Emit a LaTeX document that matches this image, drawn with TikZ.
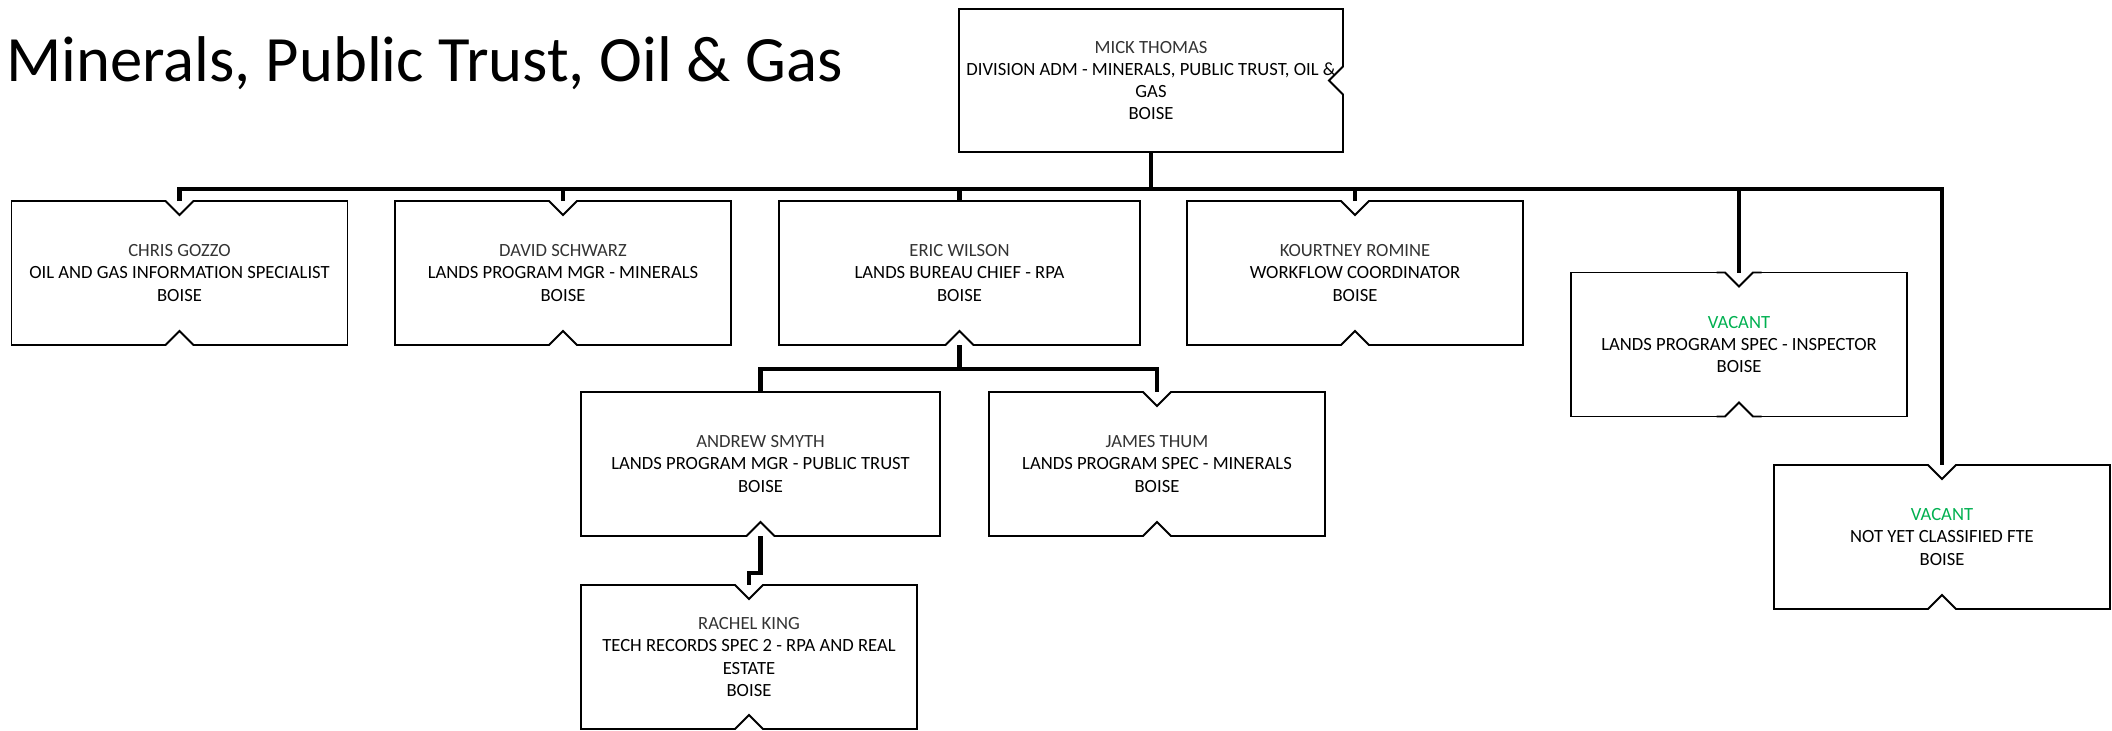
\documentclass[tikz,border=0pt]{standalone}
\usepackage{fontspec}
\setmainfont{Carlito}
\definecolor{vacantgreen}{HTML}{00B050}

% small notches where the lines meet the boxes
\newcommand{\notchtop}[1]{%
  \draw[white, line width=3pt] ([xshift=-0.28cm]#1.north) -- ([xshift=0.28cm]#1.north);
  \draw[edge] ([xshift=-0.45cm]#1.north) -- ([xshift=-0.28cm]#1.north) -- ([yshift=-0.28cm]#1.north)
    -- ([xshift=0.28cm]#1.north) -- ([xshift=0.45cm]#1.north);}
\newcommand{\notchbottom}[1]{%
  \draw[white, line width=3pt] ([xshift=-0.28cm]#1.south) -- ([xshift=0.28cm]#1.south);
  \draw[edge] ([xshift=-0.45cm]#1.south) -- ([xshift=-0.28cm]#1.south) -- ([yshift=0.28cm]#1.south)
    -- ([xshift=0.28cm]#1.south) -- ([xshift=0.45cm]#1.south);}
\newcommand{\notchright}[1]{%
  \draw[white, line width=3pt] ([yshift=0.28cm]#1.east) -- ([yshift=-0.28cm]#1.east);
  \draw[edge] ([yshift=0.45cm]#1.east) -- ([yshift=0.28cm]#1.east) -- ([xshift=-0.28cm]#1.east)
    -- ([yshift=-0.28cm]#1.east) -- ([yshift=-0.45cm]#1.east);}
\newcommand{\who}[1]{\textcolor{black!80}{#1}}

\begin{document}
\begin{tikzpicture}
    \tikzset{
        edge/.style={line width=1.1pt},
        card/.style={draw, edge, minimum width=6.72cm, minimum height=2.88cm, inner sep=0pt,
            outer sep=0pt, align=center, font=\fontsize{10.6}{12.7}\selectfont},
        link/.style={line width=2.3pt},
    }
    \useasboundingbox (0,0) rectangle (42.24,-14.6);
    \node [anchor=base west, inner sep=0pt, font=\fontsize{36.8}{40}\selectfont] (title) at (0.12,-1.62)
        {Minerals, Public Trust, Oil \& Gas};

    \node [card, minimum width=7.68cm, minimum height=2.86cm] (mick) at (23.02,-1.61)
        {\who{MICK THOMAS}\\DIVISION ADM - MINERALS, PUBLIC TRUST, OIL \&\\GAS\\BOISE};
    \node [card] (chris) at (3.59,-5.46)
        {\who{CHRIS GOZZO}\\OIL AND GAS INFORMATION SPECIALIST\\BOISE};
    \node [card] (david) at (11.26,-5.46)
        {\who{DAVID SCHWARZ}\\LANDS PROGRAM MGR - MINERALS\\BOISE};
    \node [card, minimum width=7.22cm] (eric) at (19.19,-5.46)
        {\who{ERIC WILSON}\\LANDS BUREAU CHIEF - RPA\\BOISE};
    \node [card] (kourtney) at (27.10,-5.46)
        {\who{KOURTNEY ROMINE}\\WORKFLOW COORDINATOR\\BOISE};
    \node [card] (vacone) at (34.78,-6.89)
        {\textcolor{vacantgreen}{VACANT}\\LANDS PROGRAM SPEC - INSPECTOR\\BOISE};
    \node [card] (vactwo) at (38.84,-10.74)
        {\textcolor{vacantgreen}{VACANT}\\NOT YET CLASSIFIED FTE\\BOISE};
    \node [card, minimum width=7.18cm] (andrew) at (15.21,-9.28)
        {\who{ANDREW SMYTH}\\LANDS PROGRAM MGR - PUBLIC TRUST\\BOISE};
    \node [card] (james) at (23.14,-9.28)
        {\who{JAMES THUM}\\LANDS PROGRAM SPEC - MINERALS\\BOISE};
    \node [card] (rachel) at (14.98,-13.14)
        {\who{RACHEL KING}\\TECH RECORDS SPEC 2 - RPA AND REAL\\ESTATE\\BOISE};

    \notchright{mick}
    \foreach \n in {chris,david,kourtney,vacone,vactwo,james,rachel}
        \notchtop{\n};
    \foreach \n in {chris,david,eric,kourtney,vacone,vactwo,andrew,james,rachel}
        \notchbottom{\n};

    % reporting lines
    \coordinate (bus) at (0,-3.78);
    \coordinate (sub) at (0,-7.38);
    \draw [link] (mick.south) -- (mick.south |- bus);
    \draw [link] (chris.north) |- (bus -| vactwo.north) -- (vactwo.north);
    \foreach \n in {david,eric,kourtney,vacone}
        \draw [link] (\n.north) -- (\n.north |- bus);
    \draw [link] (eric.south) -- (eric.south |- sub);
    \draw [link] (andrew.north) |- (sub -| james.north) -- (james.north);
    \draw [link] (andrew.south) -- ++(0,-0.74) -| (rachel.north);
\end{tikzpicture}
\end{document}
